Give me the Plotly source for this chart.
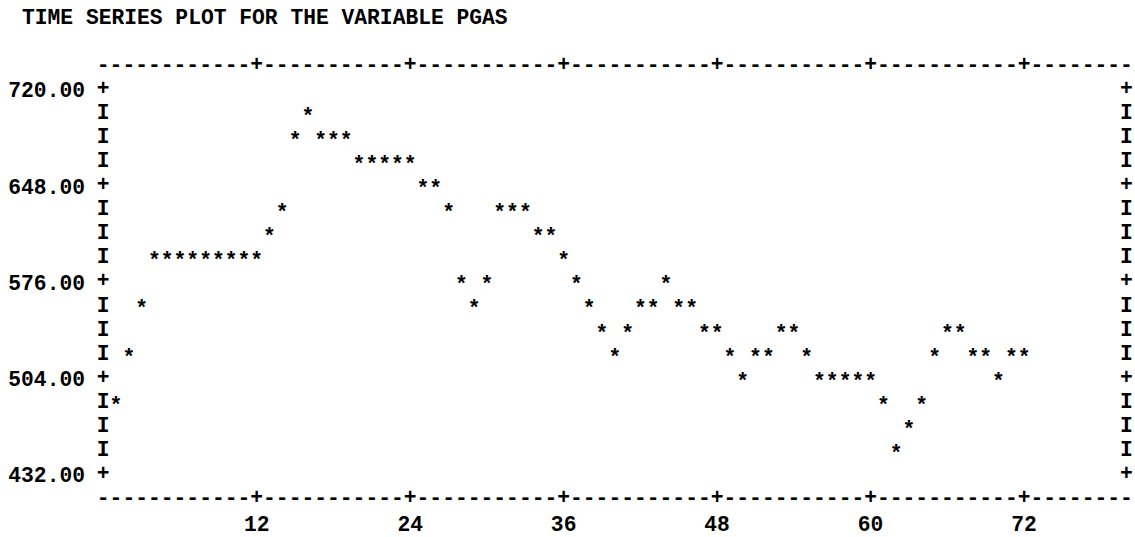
import plotly.graph_objects as go

# PGAS series, one value per period
periods = list(range(1, 73))
pgas = [486, 522, 558, 594, 594, 594, 594, 594, 594, 594, 594, 594,   # 1-12
        612, 630, 684, 702, 684, 684, 684, 666, 666, 666, 666, 666,   # 13-24
        648, 648, 630, 576, 558, 576, 630, 630, 630, 612, 612, 594,   # 25-36
        576, 558, 540, 522, 540, 558, 558, 576, 558, 558, 540, 540,   # 37-48
        522, 504, 522, 522, 540, 540, 522, 504, 504, 504, 504, 504,   # 49-60
        486, 450, 468, 486, 522, 540, 540, 522, 522, 504, 522, 522]   # 61-72

x_ticks = [12, 24, 36, 48, 60, 72]
y_ticks = [432, 504, 576, 648, 720]
title_text = "TIME SERIES PLOT FOR THE VARIABLE PGAS"

# character-grid geometry of the printer-style frame
COL_FIRST, COL_LAST = 0, 80        # frame columns (one column per period)
ROW_STEP = 18                      # value covered by one printed line
Y_TOP, Y_BOTTOM = 720, 432
COL_PX = 12.79                     # pixels per character column
ROW_PX = 24.17                     # pixels per printed line
COL0_PX = 103.2                    # pixel x of column 0
ROWTOP_PX = 90.5                   # pixel y of the 720 line
STAR_DROP_PX = 4.0                 # '*' sits high in the font; drop it onto its line

W, H = 1135, 537
M_L, M_R, M_T, M_B = 92, 0, 0, 30

px_per_val = ROW_PX / ROW_STEP
x_range = [(M_L - COL0_PX) / COL_PX, (W - M_R - COL0_PX) / COL_PX]
plot_h = H - M_T - M_B
y_range = [Y_TOP - (plot_h - ROWTOP_PX) / px_per_val, Y_TOP + ROWTOP_PX / px_per_val]
drop = STAR_DROP_PX / px_per_val
y2_range = [y_range[0] + drop, y_range[1] + drop]

FONT = "Liberation Mono, Courier New, monospace"
FSIZE = 21.3
INK = "#000000"
tfont = dict(family=FONT, size=FSIZE, color=INK, weight="bold")

# frame: dashed top/bottom rules with '+' at ticks, 'I' sides with '+' at labelled levels
fx, fy, ft = [], [], []
for yv in (Y_TOP + ROW_STEP, Y_BOTTOM - ROW_STEP):
    for c in range(COL_FIRST, COL_LAST + 1):
        fx.append(c)
        fy.append(yv)
        ft.append("+" if c in x_ticks else "-")
v = Y_TOP
while v >= Y_BOTTOM:
    for c in (COL_FIRST, COL_LAST):
        fx.append(c)
        fy.append(v)
        ft.append("+" if v in y_ticks else "I")
    v -= ROW_STEP

fig = go.Figure()
fig.add_trace(go.Scatter(
    x=fx, y=fy, text=ft, mode="text", textposition="middle center",
    textfont=tfont, hoverinfo="skip", cliponaxis=False, showlegend=False,
))
fig.add_trace(go.Scatter(
    x=periods, y=pgas, text=["*"] * len(pgas), mode="text",
    textposition="middle center", textfont=tfont,
    cliponaxis=False, showlegend=False, name="PGAS", yaxis="y2",
))

title_x = (-6.5 - x_range[0]) / (x_range[1] - x_range[0])
title_y = (Y_TOP + 3 * ROW_STEP - y_range[0]) / (y_range[1] - y_range[0])
fig.add_annotation(
    x=title_x, y=title_y, xref="paper", yref="paper",
    text=title_text, showarrow=False, xanchor="left", yanchor="middle",
    font=tfont,
)

fig.update_layout(
    width=W, height=H,
    margin=dict(l=M_L, r=M_R, t=M_T, b=M_B, pad=0),
    paper_bgcolor="white", plot_bgcolor="white",
    xaxis=dict(range=x_range, tickvals=x_ticks, showgrid=False, zeroline=False,
               showline=False, ticks="", ticklabelstandoff=5, tickfont=tfont),
    yaxis=dict(range=y_range, tickvals=y_ticks, tickformat=".2f", showgrid=False,
               zeroline=False, showline=False, ticks="", ticklabelstandoff=6,
               tickfont=tfont),
    yaxis2=dict(range=y2_range, overlaying="y", visible=False),
)

fig.write_html("out.html")
